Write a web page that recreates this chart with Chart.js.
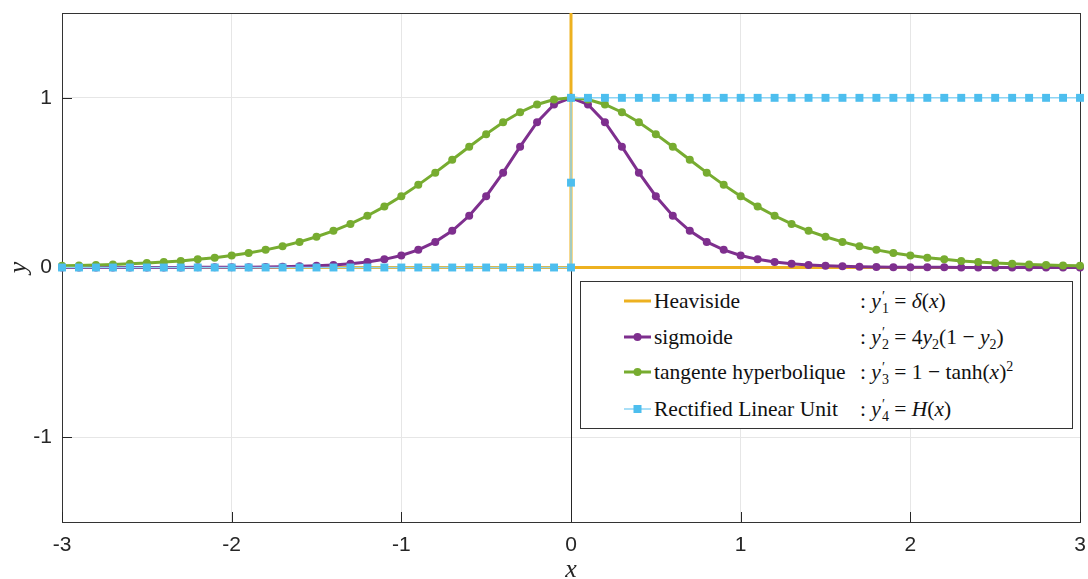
<!DOCTYPE html>
<html>
<head>
<meta charset="utf-8">
<script src="https://cdn.jsdelivr.net/npm/chart.js@4.4.1/dist/chart.umd.min.js"></script>
<style>
  html, body { margin: 0; padding: 0; background: #fff; }
  #wrap { position: relative; width: 1088px; height: 579px; }
  #legend {
    position: absolute; left: 580px; top: 281px; width: 491px; height: 146px;
    border: 1px solid #333; background: #fff;
    font-family: "Liberation Serif", "DejaVu Serif", serif; font-size: 21.5px; color: #111;
  }
  .row { position: absolute; left: 0; height: 26px; width: 100%; }
  .sample { position: absolute; left: 43px; }
  .name { position: absolute; left: 73px; top: 0; line-height: 26px; white-space: nowrap; }
  .eq { position: absolute; left: 279px; top: 0; line-height: 26px; white-space: nowrap; }
  .ss { display: inline-flex; flex-direction: column; vertical-align: middle; font-size: 14px; line-height: 12px; margin-left: 1px; }
  sup, sub { font-size: 14px; line-height: 0; }
</style>
</head>
<body>
<div id="wrap">
  <canvas id="myChart" width="1088" height="579"></canvas>
  <div id="legend"></div>
</div>
<script>
// abscisses communes
const xs = [-3,-2.9,-2.8,-2.7,-2.6,-2.5,-2.4,-2.3,-2.2,-2.1,-2,-1.9,-1.8,-1.7,-1.6,-1.5,-1.4,-1.3,-1.2,-1.1,-1,-0.9,-0.8,-0.7,-0.6,-0.5,-0.4,-0.3,-0.2,-0.1,
  0,0.1,0.2,0.3,0.4,0.5,0.6,0.7,0.8,0.9,1,1.1,1.2,1.3,1.4,1.5,1.6,1.7,1.8,1.9,2,2.1,2.2,2.3,2.4,2.5,2.6,2.7,2.8,2.9,3];

const sigmoide = [0,0,0,0,0,0,0,0,0.001,0.001,0.001,0.002,0.003,0.004,0.007,0.010,0.015,0.022,0.032,0.048,0.071,0.104,0.151,0.216,0.305,0.420,0.559,0.712,0.856,0.961,
  1,0.961,0.856,0.712,0.559,0.420,0.305,0.216,0.151,0.104,0.071,0.048,0.032,0.022,0.015,0.010,0.007,0.004,0.003,0.002,0.001,0.001,0.001,0,0,0,0,0,0,0,0];

const tangente = [0.010,0.012,0.015,0.018,0.022,0.027,0.032,0.039,0.048,0.058,0.071,0.086,0.104,0.125,0.151,0.181,0.216,0.257,0.305,0.359,0.420,0.487,0.559,0.635,0.712,0.786,0.856,0.915,0.961,0.990,
  1,0.990,0.961,0.915,0.856,0.786,0.712,0.635,0.559,0.487,0.420,0.359,0.305,0.257,0.216,0.181,0.151,0.125,0.104,0.086,0.071,0.058,0.048,0.039,0.032,0.027,0.022,0.018,0.015,0.012,0.010];

// ReLU' : 0 a gauche, saut vertical en 0 (0 ; 0.5 ; 1), 1 a droite
const reluX = [-3,-2.9,-2.8,-2.7,-2.6,-2.5,-2.4,-2.3,-2.2,-2.1,-2,-1.9,-1.8,-1.7,-1.6,-1.5,-1.4,-1.3,-1.2,-1.1,-1,-0.9,-0.8,-0.7,-0.6,-0.5,-0.4,-0.3,-0.2,-0.1,
  0,0,0,0.1,0.2,0.3,0.4,0.5,0.6,0.7,0.8,0.9,1,1.1,1.2,1.3,1.4,1.5,1.6,1.7,1.8,1.9,2,2.1,2.2,2.3,2.4,2.5,2.6,2.7,2.8,2.9,3];
const reluY = [0,0,0,0,0,0,0,0,0,0,0,0,0,0,0,0,0,0,0,0,0,0,0,0,0,0,0,0,0,0,
  0,0.5,1,1,1,1,1,1,1,1,1,1,1,1,1,1,1,1,1,1,1,1,1,1,1,1,1,1,1,1,1,1,1];

// Heaviside' : dirac en 0
const heavisideX = [-3,0,0,0,3];
const heavisideY = [0,0,1.5,0,0];

const xTicks = [-3,-2,-1,0,1,2,3];
const yTicks = [-1,0,1];

const orange = 'rgb(237,177,32)';
const violet = 'rgb(126,47,142)';
const vert = 'rgb(119,172,48)';
const bleu = 'rgb(77,190,238)';
const bleuClair = 'rgb(140,212,245)';

function pts(xv, yv) { return xv.map((x, i) => ({x: x, y: yv[i]})); }

const cadre = {
  id: 'cadre',
  beforeDatasetsDraw(chart) {
    const {ctx, chartArea: a, scales: {x, y}} = chart;
    ctx.save();
    ctx.strokeStyle = '#262626';
    ctx.lineWidth = 1;
    // axe vertical en x = 0
    const x0 = Math.round(x.getPixelForValue(0)) + 0.5;
    ctx.beginPath(); ctx.moveTo(x0, a.top); ctx.lineTo(x0, a.bottom); ctx.stroke();
    // cadre
    ctx.strokeStyle = '#333';
    ctx.strokeRect(Math.round(a.left) + 0.5, Math.round(a.top) + 0.5, Math.round(a.right - a.left), Math.round(a.bottom - a.top));
    // graduations vers l'interieur
    ctx.strokeStyle = '#262626';
    ctx.beginPath();
    xTicks.forEach(v => { const p = Math.round(x.getPixelForValue(v)) + 0.5; ctx.moveTo(p, a.bottom); ctx.lineTo(p, a.bottom - 10); });
    yTicks.forEach(v => { const p = Math.round(y.getPixelForValue(v)) + 0.5; ctx.moveTo(a.left, p); ctx.lineTo(a.left + 10, p); });
    ctx.stroke();
    ctx.restore();
  },
  afterDraw(chart) {
    const {ctx, chartArea: a} = chart;
    ctx.save();
    ctx.fillStyle = '#262626';
    ctx.font = 'italic 26px "Liberation Serif", "DejaVu Serif", serif';
    ctx.textAlign = 'center';
    ctx.textBaseline = 'middle';
    ctx.fillText('x', (a.left + a.right) / 2, 570);
    ctx.translate(19, (a.top + a.bottom) / 2);
    ctx.rotate(-Math.PI / 2);
    ctx.fillText('y', 0, 0);
    ctx.restore();
  }
};

const ctx = document.getElementById('myChart').getContext('2d');
const myChart = new Chart(ctx, {
  type: 'scatter',
  data: {
    datasets: [
      { label: 'Heaviside', data: pts(heavisideX, heavisideY), showLine: true, borderColor: orange, borderWidth: 3, pointRadius: 0, order: 4, clip: false },
      { label: 'sigmoide', data: pts(xs, sigmoide), showLine: true, borderColor: violet, backgroundColor: violet, borderWidth: 3, pointRadius: 4, pointBorderWidth: 0, order: 3, clip: false },
      { label: 'tangente hyperbolique', data: pts(xs, tangente), showLine: true, borderColor: vert, backgroundColor: vert, borderWidth: 3, pointRadius: 4, pointBorderWidth: 0, order: 2, clip: false },
      { label: 'Rectified Linear Unit', data: pts(reluX, reluY), showLine: true, borderColor: bleuClair, backgroundColor: bleu, borderWidth: 1.5, pointStyle: 'rect', pointRadius: 5.6, pointBorderWidth: 0, order: 1, clip: false }
    ]
  },
  options: {
    responsive: false,
    animation: false,
    layout: { padding: { left: 0, right: 8, top: 13, bottom: 0 } },
    plugins: { legend: { display: false }, tooltip: { enabled: false } },
    scales: {
      x: {
        type: 'linear', min: -3, max: 3,
        afterBuildTicks: s => { s.ticks = xTicks.map(v => ({value: v})); },
        afterFit: s => { s.height = 57; s.paddingLeft = 0; s.paddingRight = 0; },
        grid: { color: '#e6e6e6', drawTicks: false },
        border: { display: false },
        ticks: { padding: 11, color: '#262626', font: { family: '"Liberation Sans", Arial, sans-serif', size: 21 }, maxRotation: 0 }
      },
      y: {
        type: 'linear', min: -1.5, max: 1.5,
        afterBuildTicks: s => { s.ticks = yTicks.map(v => ({value: v})); },
        afterFit: s => { s.width = 62; s.paddingTop = 0; s.paddingBottom = 0; },
        grid: { color: '#e6e6e6', drawTicks: false },
        border: { display: false },
        ticks: { padding: 10, color: '#262626', font: { family: '"Liberation Sans", Arial, sans-serif', size: 21 } }
      }
    }
  },
  plugins: [cadre]
});

// legende
const entrees = [
  { nom: 'Heaviside', eq: ': <i>y</i><span class="ss"><span>′</span><span>1</span></span> = <i>δ</i>(<i>x</i>)', c: orange, m: null },
  { nom: 'sigmoide', eq: ': <i>y</i><span class="ss"><span>′</span><span>2</span></span> = 4<i>y</i><sub>2</sub>(1 − <i>y</i><sub>2</sub>)', c: violet, m: 'circle' },
  { nom: 'tangente hyperbolique', eq: ': <i>y</i><span class="ss"><span>′</span><span>3</span></span> = 1 − tanh(<i>x</i>)<sup>2</sup>', c: vert, m: 'circle' },
  { nom: 'Rectified Linear Unit', eq: ': <i>y</i><span class="ss"><span>′</span><span>4</span></span> = <i>H</i>(<i>x</i>)', c: bleu, m: 'rect' }
];
const tops = [6, 42, 77, 114];
const leg = document.getElementById('legend');
entrees.forEach((e, i) => {
  const row = document.createElement('div');
  row.className = 'row';
  row.style.top = tops[i] + 'px';
  let ligne = '<svg class="sample" width="27" height="10" style="top:8px" viewBox="0 0 27 10">';
  if (e.m === 'rect') {
    ligne += '<line x1="0" y1="5" x2="27" y2="5" stroke="' + bleuClair + '" stroke-width="1.5"/><rect x="9.5" y="1" width="8" height="8" fill="' + e.c + '"/>';
  } else {
    ligne += '<line x1="0" y1="5" x2="27" y2="5" stroke="' + e.c + '" stroke-width="3"/>';
    if (e.m === 'circle') ligne += '<circle cx="13.5" cy="5" r="4" fill="' + e.c + '"/>';
  }
  ligne += '</svg>';
  row.innerHTML = ligne + '<span class="name">' + e.nom + '</span><span class="eq">' + e.eq + '</span>';
  leg.appendChild(row);
});
</script>
</body>
</html>
